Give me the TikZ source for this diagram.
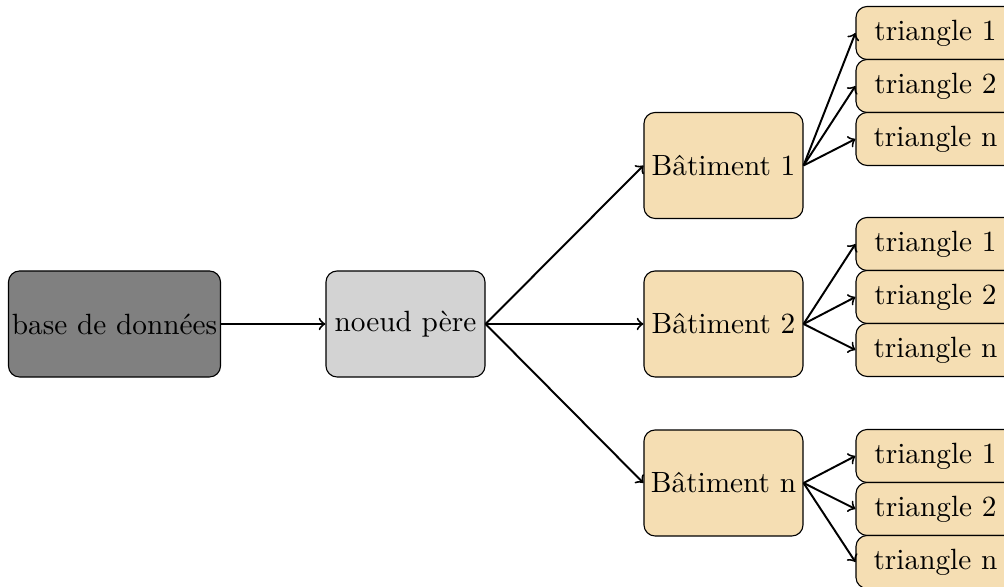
\documentclass[tikz,border=0pt]{standalone}
\definecolor{dbgray}{RGB}{128,128,128}
\definecolor{pergray}{RGB}{211,211,211}
\definecolor{wheatc}{RGB}{245,222,179}
\tikzset{
  box/.style={draw, rounded corners=4pt, minimum width=57pt, minimum height=38pt, inner sep=1.2pt, font=\fontsize{10.5}{12.6}\selectfont},
  tribox/.style={draw, rounded corners=4pt, fill=wheatc, minimum width=57pt, minimum height=19pt, inner sep=1.2pt, font=\fontsize{10.5}{12.6}\selectfont},
  conn/.style={->, line width=0.7pt},
}
\begin{document}
\begin{tikzpicture}[x=0.3584pt, y=-0.3584pt]
\useasboundingbox (0,0) rectangle (1004,587);
\node[box, fill=dbgray] (db) at (114.5,324) {base de données};
\node[box, fill=pergray] (pere) at (405.5,324) {noeud père};
\node[box, fill=wheatc] (b1) at (723.5,165.5) {Bâtiment 1};
\node[box, fill=wheatc] (b2) at (723.5,324) {Bâtiment 2};
\node[box, fill=wheatc] (bn) at (723.5,483) {Bâtiment n};
\node[tribox] (t11) at (935.5,33) {triangle 1};
\node[tribox] (t12) at (935.5,86) {triangle 2};
\node[tribox] (t1n) at (935.5,139) {triangle n};
\node[tribox] (t21) at (935.5,244) {triangle 1};
\node[tribox] (t22) at (935.5,297) {triangle 2};
\node[tribox] (t2n) at (935.5,350) {triangle n};
\node[tribox] (tn1) at (935.5,456) {triangle 1};
\node[tribox] (tn2) at (935.5,509) {triangle 2};
\node[tribox] (tnn) at (935.5,562) {triangle n};
\draw[conn] (db.east) -- (pere.west);
\draw[conn] (pere.east) -- (b1.west);
\draw[conn] (pere.east) -- (b2.west);
\draw[conn] (pere.east) -- (bn.west);
\foreach \b/\t in {b1/t11,b1/t12,b1/t1n,b2/t21,b2/t22,b2/t2n,bn/tn1,bn/tn2,bn/tnn}
  \draw[conn] (\b.east) -- (\t.west);
\end{tikzpicture}
\end{document}
